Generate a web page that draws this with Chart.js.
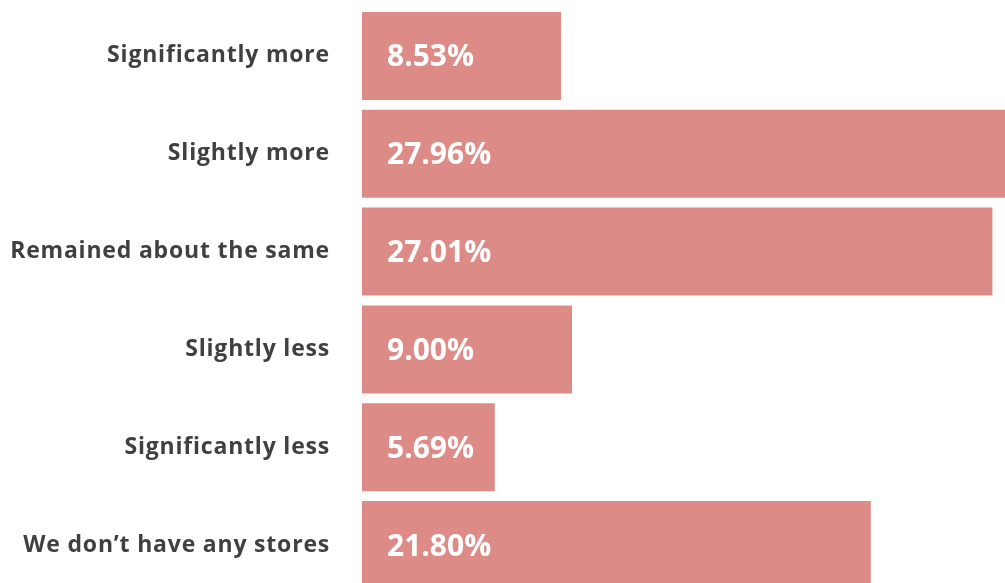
<!DOCTYPE html>
<html>
<head>
<meta charset="utf-8">
<script src="https://cdn.jsdelivr.net/npm/chart.js@4/dist/chart.umd.min.js"></script>
<style>
  html, body { margin: 0; padding: 0; background: #fff; overflow: hidden; }
  #wrap { width: 1005px; height: 601px; }
</style>
</head>
<body>
<div id="wrap"><canvas id="chart"></canvas></div>
<script>
const categories = [
  "Significantly more",
  "Slightly more",
  "Remained about the same",
  "Slightly less",
  "Significantly less",
  "We don\u2019t have any stores"
];
const shares = [8.53, 27.96, 27.01, 9.00, 5.69, 21.80];
const barColor = "#dd8b87";

// slightly wider tracking for the category labels
const tracking = {
  id: "tracking",
  beforeDraw(chart) { chart.ctx.letterSpacing = "0.8px"; },
  afterDraw(chart) { chart.ctx.letterSpacing = "0px"; }
};

// white value text inside each bar
const valueLabels = {
  id: "valueLabels",
  afterDatasetsDraw(chart) {
    const ctx = chart.ctx;
    const meta = chart.getDatasetMeta(0);
    ctx.save();
    ctx.letterSpacing = "0px";
    ctx.fillStyle = "#ffffff";
    ctx.font = "bold 30px 'Open Sans'";
    ctx.textAlign = "left";
    ctx.textBaseline = "middle";
    meta.data.forEach((bar, i) => {
      ctx.fillText(shares[i].toFixed(2) + "%", bar.base + 25, bar.y + 2);
    });
    ctx.restore();
  }
};

const ctx = document.getElementById("chart").getContext("2d");
new Chart(ctx, {
  type: "bar",
  data: {
    labels: categories,
    datasets: [{
      data: shares,
      backgroundColor: barColor,
      borderWidth: 0,
      barPercentage: 0.9,
      categoryPercentage: 1
    }]
  },
  options: {
    indexAxis: "y",
    responsive: true,
    maintainAspectRatio: false,
    animation: false,
    layout: { padding: { top: 7, bottom: 7, left: 0, right: 0 } },
    plugins: {
      legend: { display: false },
      tooltip: { enabled: false }
    },
    scales: {
      x: {
        display: false,
        min: 0,
        max: 27.55
      },
      y: {
        grid: { display: false, drawTicks: false },
        border: { display: false },
        ticks: {
          padding: 32,
          color: "#404040",
          font: { family: "'Open Sans'", size: 23, weight: "bold" }
        },
        afterFit(scale) {
          scale.width = 362;
          scale.paddingTop = 0;
          scale.paddingBottom = 0;
        }
      }
    }
  },
  plugins: [tracking, valueLabels]
});
</script>
</body>
</html>
